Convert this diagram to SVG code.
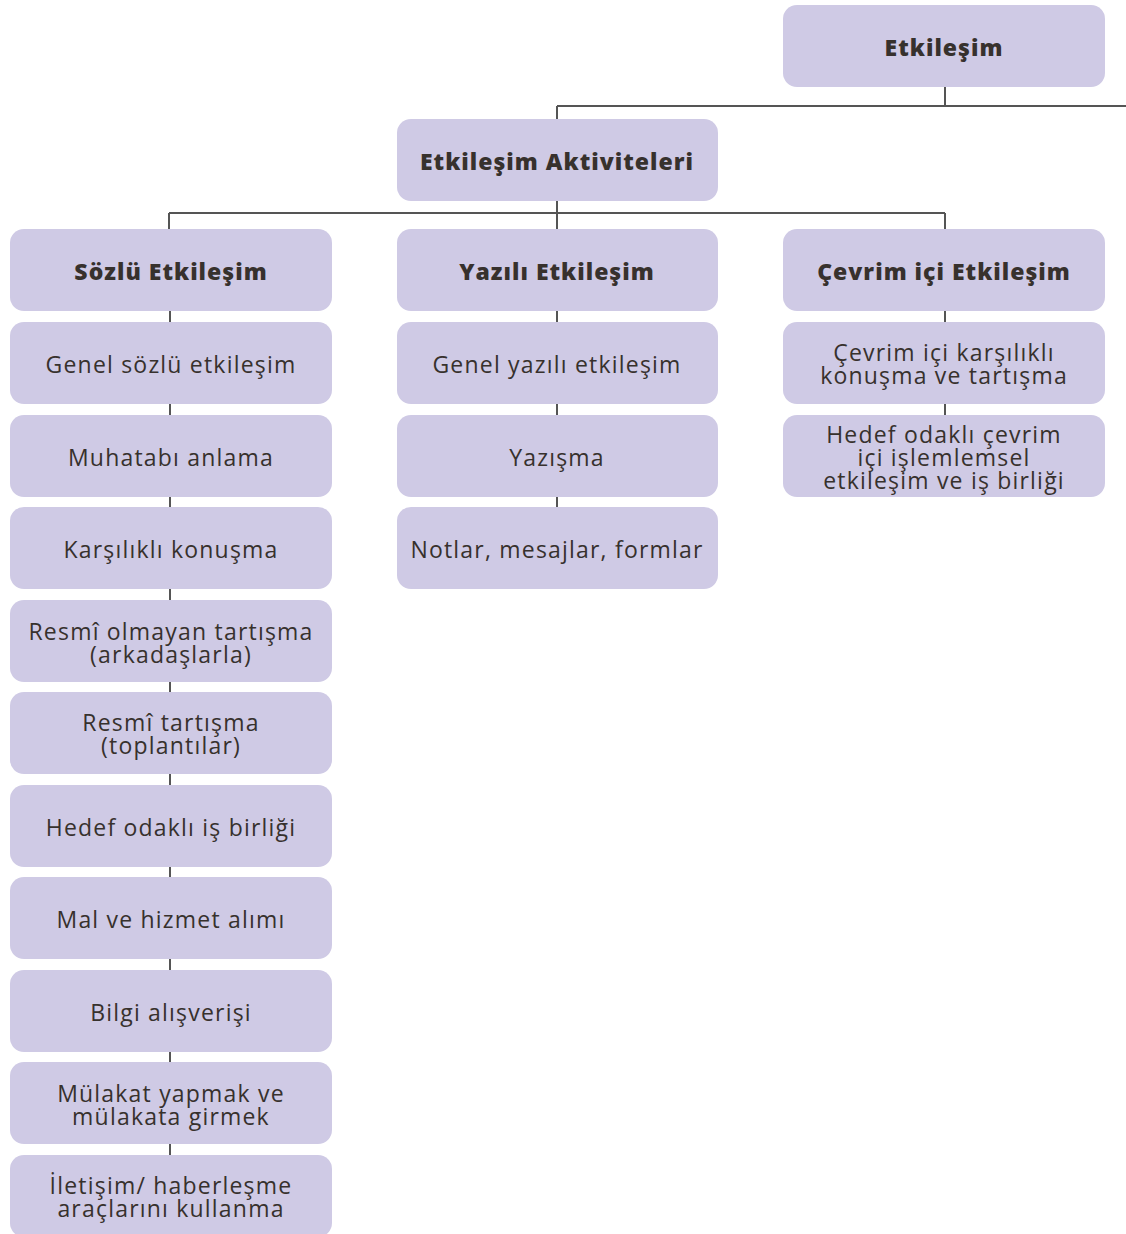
<svg xmlns="http://www.w3.org/2000/svg" width="1126" height="1234" viewBox="0 0 1126 1234">
  <style>
    .box { fill: #cfcae5; }
    .t { font-family: "Open Sans", "DejaVu Sans", sans-serif; font-size: 23px; font-weight: 500; letter-spacing: 1.2px; fill: #37312d; text-anchor: middle; dominant-baseline: central; }
    .b { font-weight: 800; letter-spacing: 1px; }
    .ln { stroke: #555555; stroke-width: 2; fill: none; }
  </style>

  <!-- connectors -->
  <g id="connectors">
    <path class="ln" d="M945 87 V106 M557 106 H1126 M557 106 V119"/>
    <path class="ln" d="M557 201 V229 M169 213 H945 M169 213 V229 M945 213 V229"/>
    <path class="ln" d="M170 311 V322 M170 403 V415 M170 496 V507 M170 588 V600 M170 681 V692 M170 773 V785 M170 866 V877 M170 958 V970 M170 1051 V1062 M170 1143 V1155"/>
    <path class="ln" d="M557 311 V322 M557 403 V415 M557 496 V507"/>
    <path class="ln" d="M945 311 V322 M945 403 V415"/>
  </g>

  <!-- root -->
  <g id="etkilesim">
    <rect class="box" x="783" y="5" width="322" height="82" rx="14"/>
    <text class="t b" x="944" y="47">Etkileşim</text>
  </g>
  <g id="aktiviteler">
    <rect class="box" x="397" y="119" width="321" height="82" rx="14"/>
    <text class="t b" x="557" y="161">Etkileşim Aktiviteleri</text>
  </g>

  <!-- column heads -->
  <g id="sozlu">
    <rect class="box" x="10" y="229" width="322" height="82" rx="14"/>
    <text class="t b" x="171" y="271">Sözlü Etkileşim</text>
  </g>
  <g id="yazili">
    <rect class="box" x="397" y="229" width="321" height="82" rx="14"/>
    <text class="t b" x="557" y="271">Yazılı Etkileşim</text>
  </g>
  <g id="cevrimici">
    <rect class="box" x="783" y="229" width="322" height="82" rx="14"/>
    <text class="t b" x="944" y="271">Çevrim içi Etkileşim</text>
  </g>

  <!-- spoken column -->
  <g id="s1">
    <rect class="box" x="10" y="322" width="322" height="82" rx="14"/>
    <text class="t" x="171" y="364">Genel sözlü etkileşim</text>
  </g>
  <g id="s2">
    <rect class="box" x="10" y="415" width="322" height="82" rx="14"/>
    <text class="t" x="171" y="457">Muhatabı anlama</text>
  </g>
  <g id="s3">
    <rect class="box" x="10" y="507" width="322" height="82" rx="14"/>
    <text class="t" x="171" y="549">Karşılıklı konuşma</text>
  </g>
  <g id="s4">
    <rect class="box" x="10" y="600" width="322" height="82" rx="14"/>
    <text class="t" x="171" y="631">Resmî olmayan tartışma</text>
    <text class="t" x="171" y="654">(arkadaşlarla)</text>
  </g>
  <g id="s5">
    <rect class="box" x="10" y="692" width="322" height="82" rx="14"/>
    <text class="t" x="171" y="722">Resmî tartışma</text>
    <text class="t" x="171" y="745">(toplantılar)</text>
  </g>
  <g id="s6">
    <rect class="box" x="10" y="785" width="322" height="82" rx="14"/>
    <text class="t" x="171" y="827">Hedef odaklı iş birliği</text>
  </g>
  <g id="s7">
    <rect class="box" x="10" y="877" width="322" height="82" rx="14"/>
    <text class="t" x="171" y="919">Mal ve hizmet alımı</text>
  </g>
  <g id="s8">
    <rect class="box" x="10" y="970" width="322" height="82" rx="14"/>
    <text class="t" x="171" y="1012">Bilgi alışverişi</text>
  </g>
  <g id="s9">
    <rect class="box" x="10" y="1062" width="322" height="82" rx="14"/>
    <text class="t" x="171" y="1093">Mülakat yapmak ve</text>
    <text class="t" x="171" y="1116">mülakata girmek</text>
  </g>
  <g id="s10">
    <rect class="box" x="10" y="1155" width="322" height="82" rx="14"/>
    <text class="t" x="171" y="1185">İletişim/ haberleşme</text>
    <text class="t" x="171" y="1208">araçlarını kullanma</text>
  </g>

  <!-- written column -->
  <g id="y1">
    <rect class="box" x="397" y="322" width="321" height="82" rx="14"/>
    <text class="t" x="557" y="364">Genel yazılı etkileşim</text>
  </g>
  <g id="y2">
    <rect class="box" x="397" y="415" width="321" height="82" rx="14"/>
    <text class="t" x="557" y="457">Yazışma</text>
  </g>
  <g id="y3">
    <rect class="box" x="397" y="507" width="321" height="82" rx="14"/>
    <text class="t" x="557" y="549">Notlar, mesajlar, formlar</text>
  </g>

  <!-- online column -->
  <g id="c1">
    <rect class="box" x="783" y="322" width="322" height="82" rx="14"/>
    <text class="t" x="944" y="352">Çevrim içi karşılıklı</text>
    <text class="t" x="944" y="375">konuşma ve tartışma</text>
  </g>
  <g id="c2">
    <rect class="box" x="783" y="415" width="322" height="82" rx="14"/>
    <text class="t" x="944" y="434">Hedef odaklı çevrim</text>
    <text class="t" x="944" y="457">içi işlemlemsel</text>
    <text class="t" x="944" y="480">etkileşim ve iş birliği</text>
  </g>
</svg>
